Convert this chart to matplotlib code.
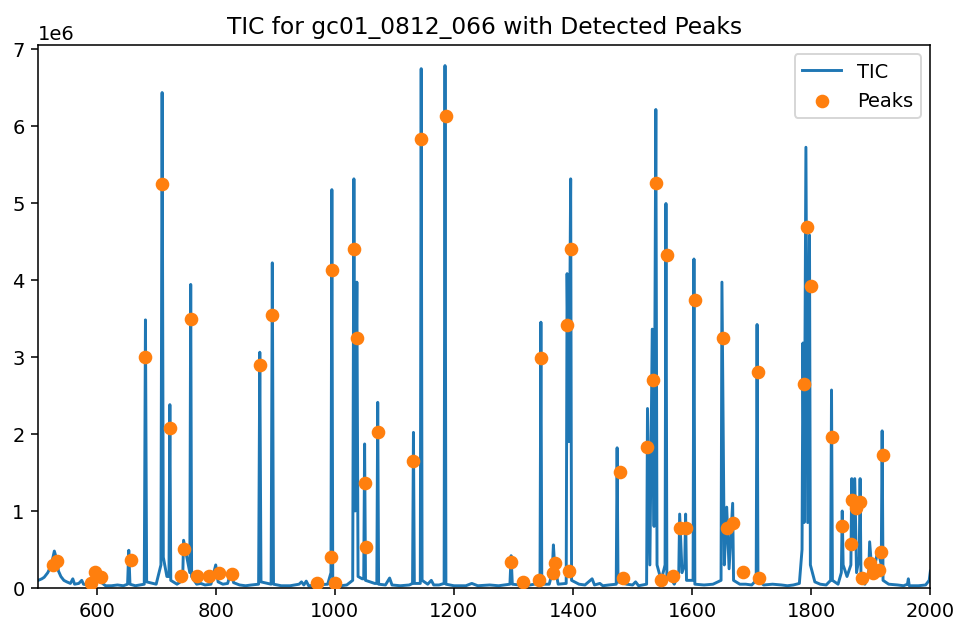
import numpy as np
import matplotlib.pyplot as plt

sample = "gc01_0812_066"

# TIC trace: retention time and intensity (x 1e6)
tic_time = [
    502, 508, 512, 518, 524, 529, 532, 536, 540, 545, 550, 556, 560, 563, 570, 575, 578,
    585, 592, 596, 599, 603, 606, 610, 615, 625, 635, 645, 652, 654, 656, 665,
    680, 682, 684, 700, 708, 710, 712, 718, 721.5, 723, 724.5, 735, 744.5, 746, 756.5, 758, 759.5,
    768, 775, 782, 792, 800, 804, 812, 820, 826, 830, 840, 850, 860, 872, 874, 876,
    893, 895, 897, 910, 925, 940, 944, 948, 952, 956, 970, 988, 993.5, 995, 996.5,
    1010, 1020, 1030, 1032, 1034, 1037, 1039, 1046, 1048.5, 1050, 1051.5, 1067, 1070.5, 1072, 1073.5,
    1085, 1092, 1096, 1110, 1125, 1130.5, 1132, 1133.5, 1143.5, 1145, 1146.5, 1156, 1162, 1166,
    1175, 1183.5, 1185, 1186.5, 1200, 1220, 1230, 1240, 1260, 1275, 1294, 1296, 1298,
    1310, 1320, 1335, 1344.5, 1346, 1347.5, 1360, 1365, 1367, 1369, 1375, 1388.5, 1390, 1393,
    1396, 1397.5, 1410, 1420, 1432, 1436, 1445, 1450, 1460, 1472.5, 1474, 1475.5, 1490,
    1500, 1505, 1510, 1523.5, 1525, 1529, 1533, 1536, 1539, 1541, 1548, 1554.5, 1556, 1557.5,
    1566, 1570, 1577.5, 1579, 1583, 1587.5, 1589, 1590.5, 1601.5, 1603, 1604.5, 1620, 1635,
    1648.5, 1650, 1654, 1658, 1662, 1668, 1669.5, 1680, 1690, 1700, 1707.5, 1709, 1710.5,
    1720, 1735, 1750, 1760, 1770, 1780, 1784.5, 1786, 1788, 1791, 1794, 1797, 1798.5,
    1806, 1815, 1825, 1832.5, 1834, 1835.5, 1845, 1850.5, 1852, 1853.5, 1860, 1866.5, 1868,
    1870, 1873, 1876, 1880.5, 1882, 1883.5, 1890, 1896.5, 1898, 1902, 1907, 1912, 1917.5,
    1919, 1920.5, 1930, 1945, 1955, 1961.5, 1963, 1964.5, 1980, 1992, 1998, 2000,
]
tic_int = [
    0.10, 0.12, 0.14, 0.20, 0.30, 0.48, 0.40, 0.22, 0.15, 0.10, 0.08, 0.06, 0.12, 0.05, 0.06, 0.10, 0.05,
    0.04, 0.08, 0.15, 0.26, 0.18, 0.10, 0.06, 0.03, 0.03, 0.04, 0.03, 0.05, 0.49, 0.05, 0.03,
    0.05, 3.48, 0.08, 0.05, 0.30, 6.43, 0.40, 0.15, 0.15, 2.38, 0.10, 0.05, 0.10, 0.62, 0.20, 3.94, 0.15,
    0.05, 0.06, 0.04, 0.05, 0.30, 0.08, 0.05, 0.06, 0.22, 0.07, 0.04, 0.03, 0.04, 0.05, 3.06, 0.08,
    0.05, 4.22, 0.05, 0.03, 0.03, 0.05, 0.08, 0.04, 0.09, 0.03, 0.04, 0.05, 0.20, 5.17, 0.05,
    0.03, 0.04, 0.10, 5.31, 1.00, 3.97, 0.15, 0.12, 0.12, 1.87, 0.10, 0.06, 0.06, 2.41, 0.05,
    0.04, 0.13, 0.04, 0.03, 0.04, 0.06, 2.02, 0.06, 0.06, 6.74, 0.10, 0.05, 0.10, 0.04,
    0.04, 0.06, 6.78, 0.05, 0.03, 0.03, 0.06, 0.03, 0.04, 0.03, 0.05, 0.42, 0.05,
    0.04, 0.03, 0.05, 0.10, 3.45, 0.05, 0.05, 0.20, 0.56, 0.30, 0.05, 0.06, 4.08, 1.90,
    5.31, 0.10, 0.05, 0.04, 0.12, 0.04, 0.06, 0.03, 0.04, 0.05, 1.82, 0.08, 0.05,
    0.04, 0.08, 0.03, 0.05, 2.33, 0.30, 3.36, 0.80, 6.21, 0.30, 0.10, 0.30, 4.99, 0.15,
    0.10, 0.05, 0.20, 0.96, 0.20, 0.30, 0.96, 0.10, 0.10, 4.27, 0.05, 0.04, 0.05,
    0.10, 3.97, 0.30, 1.05, 0.25, 1.10, 0.10, 0.05, 0.05, 0.04, 0.10, 3.42, 0.10,
    0.04, 0.05, 0.04, 0.03, 0.04, 0.06, 0.50, 3.18, 0.85, 5.72, 0.85, 4.58, 0.30,
    0.08, 0.05, 0.04, 0.10, 2.57, 0.10, 0.05, 0.20, 1.00, 0.30, 0.15, 0.30, 1.42,
    0.50, 1.42, 0.20, 0.40, 1.42, 0.10, 0.05, 0.20, 0.60, 0.20, 0.30, 0.50, 0.30,
    2.04, 0.10, 0.05, 0.04, 0.03, 0.05, 0.12, 0.03, 0.03, 0.04, 0.10, 0.22,
]

# detected peaks (x 1e6)
peak_time = [
    526, 534, 590, 598, 607, 657, 682, 710, 723, 742, 747, 758, 769, 788, 805, 828,
    874, 895, 970, 993, 996, 1001, 1032, 1037, 1051, 1052, 1072, 1132, 1145, 1186,
    1296, 1316, 1343, 1346, 1367, 1370, 1390, 1394, 1396, 1478, 1484, 1525, 1534,
    1540, 1548, 1557, 1568, 1580, 1590, 1604, 1652, 1658, 1669, 1685, 1710, 1713,
    1787, 1792, 1799, 1835, 1852, 1867, 1869, 1875, 1882, 1886, 1898, 1904, 1914,
    1917, 1920,
]
peak_int = [
    0.30, 0.35, 0.07, 0.21, 0.14, 0.37, 3.00, 5.24, 2.08, 0.16, 0.51, 3.49, 0.16, 0.16, 0.20, 0.18,
    2.90, 3.54, 0.06, 0.40, 4.13, 0.06, 4.40, 3.25, 1.36, 0.53, 2.02, 1.65, 5.83, 6.12,
    0.34, 0.08, 0.11, 2.99, 0.20, 0.32, 3.42, 0.22, 4.40, 1.50, 0.13, 1.83, 2.70,
    5.26, 0.10, 4.32, 0.15, 0.78, 0.78, 3.74, 3.24, 0.78, 0.84, 0.21, 2.80, 0.13,
    2.65, 4.68, 3.92, 1.96, 0.81, 0.57, 1.14, 1.04, 1.12, 0.13, 0.33, 0.20, 0.24,
    0.47, 1.73,
]

tic_time = np.array(tic_time)
tic_int = np.array(tic_int) * 1e6
peak_time = np.array(peak_time)
peak_int = np.array(peak_int) * 1e6

fig = plt.figure(figsize=(6.83, 4.44), dpi=140)
ax = fig.add_axes([0.040, 0.053, 0.933, 0.874])
ax.plot(tic_time, tic_int, label="TIC")
ax.scatter(peak_time, peak_int, color="C1", label="Peaks", zorder=3)
ax.set_xlim(tic_time.min(), 2000)
ax.set_ylim(0, 7.05e6)
ax.set_title(f"TIC for {sample} with Detected Peaks")
ax.legend(loc="upper right")
fig.savefig("out.png", dpi=140)
